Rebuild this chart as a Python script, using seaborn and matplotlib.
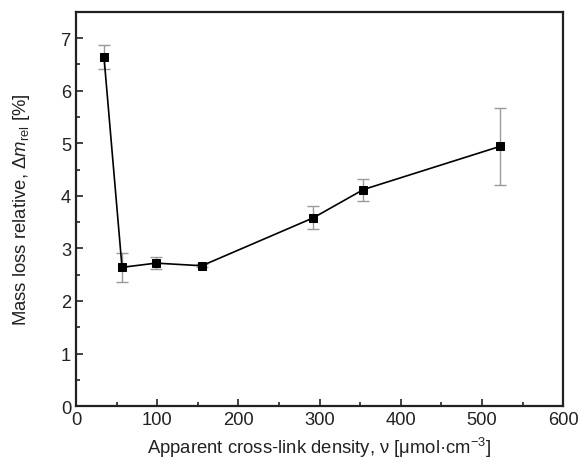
import numpy as np
import pandas as pd
import matplotlib
matplotlib.use("Agg")
import matplotlib.pyplot as plt
from matplotlib.ticker import MultipleLocator
import seaborn as sns

# data
density   = [34.5, 56.7, 98.6, 155, 292, 354, 522]
mass_loss = [6.64, 2.64, 2.72, 2.67, 3.58, 4.12, 4.94]
mass_err  = [0.23, 0.28, 0.12, 0.03, 0.22, 0.21, 0.73]

df = pd.DataFrame({"density": density, "mass_loss": mass_loss, "err": mass_err})

sns.set_style("ticks")
plt.rcParams["font.family"] = ["Liberation Sans", "DejaVu Sans"]
plt.rcParams["mathtext.fontset"] = "custom"
plt.rcParams["mathtext.rm"] = "Liberation Sans"
plt.rcParams["mathtext.it"] = "Liberation Sans:italic"
plt.rcParams["font.size"] = 13

fig = plt.figure(figsize=(5.8, 4.6), dpi=100)
ax = fig.add_axes([0.131, 0.115, 0.84, 0.857])

ax.errorbar(df["density"], df["mass_loss"], yerr=df["err"], fmt="none",
            ecolor="#9a9a9a", elinewidth=1.0, capsize=4, capthick=1.0, zorder=1)
sns.lineplot(data=df, x="density", y="mass_loss", ax=ax, color="black",
             marker="s", markersize=6.2, markeredgecolor="black", linewidth=1.2,
             zorder=2)

ax.set_xlim(0, 600)
ax.set_ylim(0, 7.5)
ax.xaxis.set_major_locator(MultipleLocator(100))
ax.xaxis.set_minor_locator(MultipleLocator(50))
ax.yaxis.set_major_locator(MultipleLocator(1))
ax.yaxis.set_minor_locator(MultipleLocator(0.5))
ax.tick_params(which="both", direction="in", labelsize=13.2, width=1.2,
               colors="#222222")
ax.tick_params(which="major", length=5)
ax.tick_params(which="minor", length=3)
for s in ax.spines.values():
    s.set_linewidth(1.6)
    s.set_color("#222222")

ax.set_xlabel(r"Apparent cross-link density, ν [μmol·cm$^{-3}$]", fontsize=13.3,
              color="#222222", labelpad=5)
ax.set_ylabel(r"Mass loss relative, $\Delta m_{\mathrm{rel}}$ [%]", fontsize=13.3,
              color="#222222", labelpad=21)

fig.savefig("out.png", dpi=100)
